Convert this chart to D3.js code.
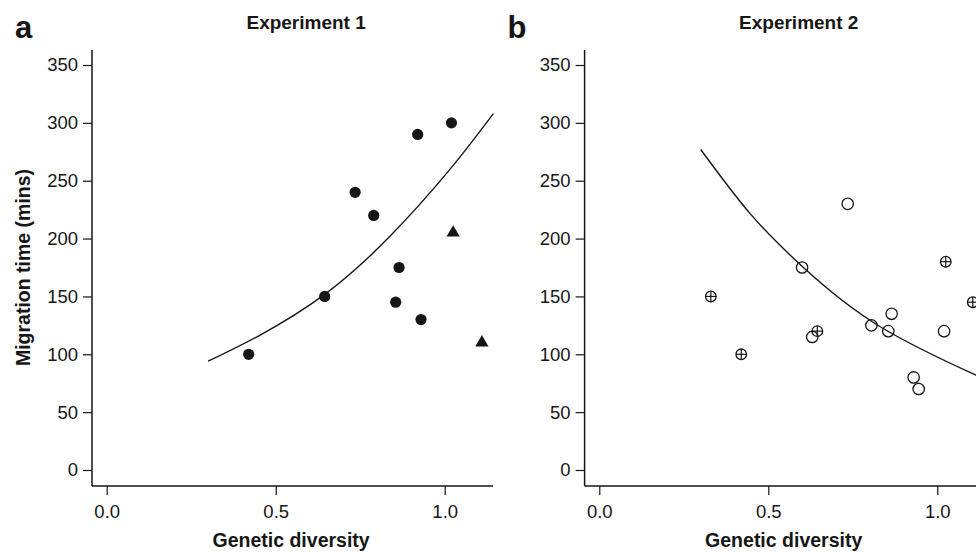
<!DOCTYPE html>
<html>
<head>
<meta charset="utf-8">
<script src="https://d3js.org/d3.v7.min.js"></script>
<style>
  body { margin: 0; background: white; }
  svg { display: block; font-family: "Liberation Sans", Arial, Helvetica, sans-serif; }
</style>
</head>
<body>
<svg id="chart" width="976" height="553"></svg>
<script>
// Experiment 1 (panel a)
var divA = [0.42, 0.645, 0.735, 0.79, 0.855, 0.865, 0.92, 0.93, 1.02]
var timeA = [100, 150, 240, 220, 145, 175, 290, 130, 300]
var divA_tri = [1.025, 1.11]
var timeA_tri = [205, 110]
var fitA_x = [0.30, 0.45, 0.646, 0.838, 1.016, 1.144]
var fitA_y = [94, 116, 152, 202, 260, 308]

// Experiment 2 (panel b)
var divB = [0.60, 0.63, 0.735, 0.805, 0.855, 0.865, 0.93, 0.945, 1.02]
var timeB = [175, 115, 230, 125, 120, 135, 80, 70, 120]
var divB_cross = [0.33, 0.42, 0.645, 1.025, 1.105]
var timeB_cross = [150, 100, 120, 180, 145]
var fitB_x = [0.30, 0.445, 0.60, 0.83, 1.114, 1.14]
var fitB_y = [277, 222, 176, 124, 82, 78]

var xTicks = [0, 0.5, 1.0]
var yTicks = [0, 50, 100, 150, 200, 250, 300, 350]

var svg = d3.select('#chart')
var ink = '#161616'

function panel(dx, letter, title, drawMarks){
  var x = d3.scaleLinear().domain([0, 1]).range([106.7 + dx, 444.7 + dx])
  var y = d3.scaleLinear().domain([0, 350]).range([470, 65])
  var left = 92 + dx, right = 493 + dx, top = 50, bottom = 486

  var g = svg.append('g')

  // axis lines (L-shaped box)
  g.append('line').attr('x1', left).attr('x2', left).attr('y1', top).attr('y2', bottom)
    .style('stroke', ink).style('stroke-width', 1.5)
  g.append('line').attr('x1', left).attr('x2', right).attr('y1', bottom).attr('y2', bottom)
    .style('stroke', ink).style('stroke-width', 1.5)

  g.append('g').attr('transform', 'translate(' + left + ',0)')
    .call(d3.axisLeft(y).tickValues(yTicks).tickSize(9).tickPadding(5).tickFormat(d3.format('d')))
  g.append('g').attr('transform', 'translate(0,' + bottom + ')')
    .call(d3.axisBottom(x).tickValues(xTicks).tickSize(9).tickPadding(10).tickFormat(d3.format('.1f')))
  g.selectAll('.domain').remove()
  g.selectAll('.tick line').style('stroke', ink).style('stroke-width', 1.2)
  g.selectAll('.tick text').style('font-size', '18.5px').style('fill', ink)
    .style('font-family', '"Liberation Sans", Arial, sans-serif')

  g.append('text').attr('x', (x(0.55) - 1.5)).attr('y', 547)
    .attr('text-anchor', 'middle').style('font-weight', 'bold').style('font-size', '19.5px')
    .style('fill', ink).text('Genetic diversity')

  g.append('text').attr('x', x(0.59)).attr('y', 28.5)
    .attr('text-anchor', 'middle').style('font-weight', 'bold').style('font-size', '19px')
    .style('fill', ink).text(title)

  g.append('text').attr('x', left - 77).attr('y', 37.5)
    .style('font-weight', 'bold').style('font-size', '31px')
    .style('fill', ink).text(letter)

  drawMarks(g, x, y)
}

panel(0, 'a', 'Experiment 1', function(g, x, y){
  var fit = d3.range(fitA_x.length).map(function(i){ return [fitA_x[i], fitA_y[i]] })
  g.append('path').datum(fit)
    .attr('fill', 'none').attr('stroke', ink).attr('stroke-width', 1.4)
    .attr('d', d3.line().curve(d3.curveNatural)
      .x(function(d){ return x(d[0]) }).y(function(d){ return y(d[1]) }))

  g.selectAll('.dotA').data(divA).enter().append('circle')
    .attr('class', 'dotA')
    .attr('cx', function(d){ return x(d) })
    .attr('cy', function(d, i){ return y(timeA[i]) })
    .attr('r', 5.6).attr('fill', ink)

  g.selectAll('.triA').data(divA_tri).enter().append('path')
    .attr('class', 'triA')
    .attr('transform', function(d, i){ return 'translate(' + x(d) + ',' + y(timeA_tri[i]) + ')' })
    .attr('d', d3.symbol().type(d3.symbolTriangle).size(76))
    .attr('fill', ink)
})

panel(492.6, 'b', 'Experiment 2', function(g, x, y){
  var fit = d3.range(fitB_x.length).map(function(i){ return [fitB_x[i], fitB_y[i]] })
  g.append('path').datum(fit)
    .attr('fill', 'none').attr('stroke', ink).attr('stroke-width', 1.4)
    .attr('d', d3.line().curve(d3.curveNatural)
      .x(function(d){ return x(d[0]) }).y(function(d){ return y(d[1]) }))

  g.selectAll('.openB').data(divB).enter().append('circle')
    .attr('class', 'openB')
    .attr('cx', function(d){ return x(d) })
    .attr('cy', function(d, i){ return y(timeB[i]) })
    .attr('r', 5.7).attr('fill', 'none').attr('stroke', ink).attr('stroke-width', 1.3)

  var cross = g.selectAll('.crossB').data(divB_cross).enter().append('g')
    .attr('class', 'crossB')
    .attr('transform', function(d, i){ return 'translate(' + x(d) + ',' + y(timeB_cross[i]) + ')' })
  cross.append('circle').attr('r', 5.3).attr('fill', 'none').attr('stroke', ink).attr('stroke-width', 1.3)
  cross.append('line').attr('x1', -5.3).attr('x2', 5.3).attr('y1', 0).attr('y2', 0)
    .attr('stroke', ink).attr('stroke-width', 1.2)
  cross.append('line').attr('x1', 0).attr('x2', 0).attr('y1', -5.3).attr('y2', 5.3)
    .attr('stroke', ink).attr('stroke-width', 1.2)
})

// shared y axis title
svg.append('text')
  .attr('transform', 'translate(29.5,267.5) rotate(-90)')
  .attr('text-anchor', 'middle').style('font-weight', 'bold').style('font-size', '19.5px')
  .style('fill', ink).text('Migration time (mins)')
</script>
</body>
</html>
